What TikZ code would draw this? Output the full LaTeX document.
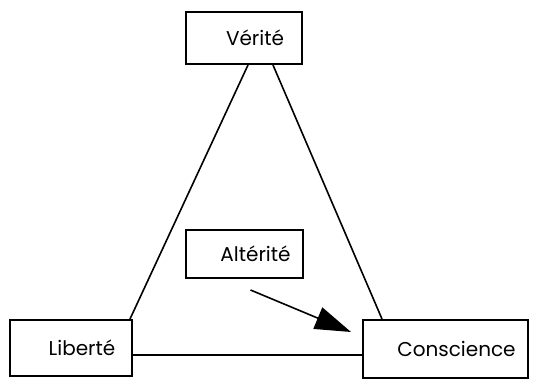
\documentclass[tikz,border=0pt]{standalone}
\usepackage{fontspec}
\setmainfont{Poppins}
\usetikzlibrary{arrows.meta}

\begin{document}
\begin{tikzpicture}[x=1pt, y=-1pt,
        every node/.style={font=\fontsize{20}{24}\selectfont},
        concept/.style={rectangle, draw, line width=2pt, inner sep=0pt, execute at begin node=\hspace*{22pt}},
        link/.style={line width=1.6pt},
        push/.style={line width=1.6pt, -{Triangle[length=36pt, width=23pt]}}]
    \useasboundingbox (0,0) rectangle (538,385);
    \node[concept, minimum width=116pt, minimum height=52pt] (verite) at (244,38) {Vérité};
    \node[concept, minimum width=117pt, minimum height=48pt] (alterite) at (244.5,254) {Altérité};
    \node[concept, minimum width=122pt, minimum height=56pt] (liberte) at (71,348) {Liberté};
    \node[concept, minimum width=165pt, minimum height=58pt] (conscience) at (445.5,349) {Conscience};
    \coordinate (cible) at ([xshift=-11pt, yshift=-13pt]conscience.north west);
    % triangle and arrow
    \draw[link] ([xshift=4pt]verite.south) -- ([xshift=-3pt]liberte.north east);
    \draw[link] ([xshift=29pt]verite.south) -- ([xshift=20pt]conscience.north west);
    \draw[link] ([yshift=-7pt]liberte.east) -- ([yshift=-6pt]conscience.west);
    \draw[push] ([xshift=6pt, yshift=-11pt]alterite.south) -- (cible);
\end{tikzpicture}
\end{document}
